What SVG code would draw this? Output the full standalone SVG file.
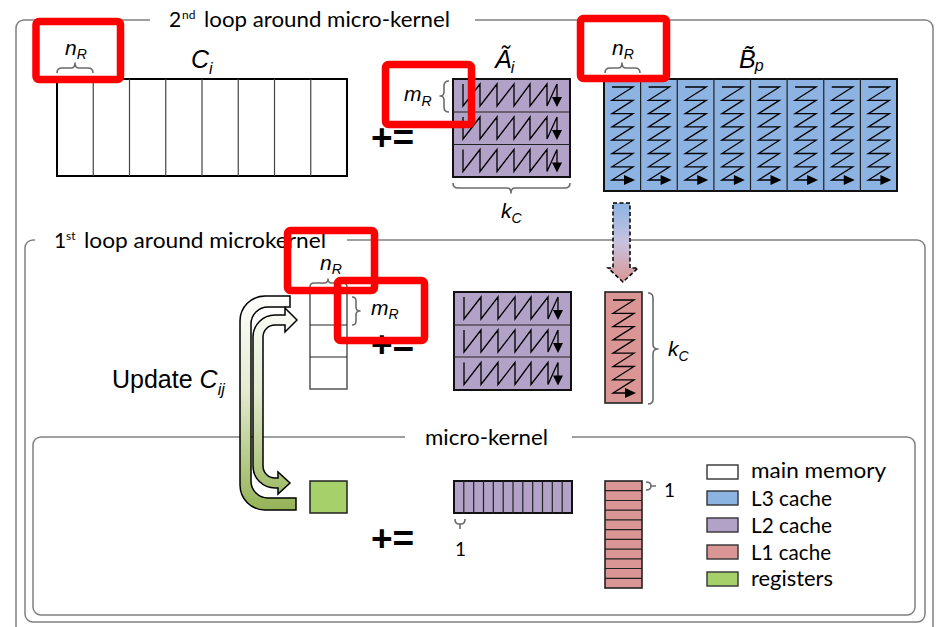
<svg xmlns="http://www.w3.org/2000/svg" width="936" height="627" viewBox="0 0 936 627">
  <style>
    .frame { fill: none; stroke: #808080; stroke-width: 1.5; }
    .title { font-family: Lato, "Open Sans", sans-serif; font-size: 21px; fill: #000; }
    .sup { font-size: 12px; }
    .m { font-family: "Liberation Sans", Arial, sans-serif; font-style: italic; font-size: 21px; fill: #000; }
    .big { font-family: "Liberation Sans", Arial, sans-serif; font-style: italic; font-size: 25px; fill: #000; }
    .sub { font-size: 14px; }
    .sub2 { font-size: 16px; }
    .op { font-family: "Liberation Sans", Arial, sans-serif; font-weight: bold; font-size: 37px; fill: #000; }
    .lbl { font-family: "Liberation Sans", Arial, sans-serif; font-size: 25px; fill: #000; }
    .one { font-family: Lato, "Open Sans", sans-serif; font-size: 19px; fill: #000; }
    .brace { fill: none; stroke: #6b6b6b; stroke-width: 1.6; stroke-linejoin: round; }
    .mem { fill: #ffffff; stroke: #000; stroke-width: 2; }
    .l3 { fill: #8db3e2; stroke: #111; stroke-width: 2; }
    .l2 { fill: #b3a2c7; stroke: #111; stroke-width: 2; }
    .l1 { fill: #d99694; stroke: #222; stroke-width: 1.6; }
    .reg { fill: #a5d06a; stroke: #222; stroke-width: 1.5; }
    .div { stroke: #222; stroke-width: 1.2; fill: none; }
    .divg { stroke: #444; stroke-width: 1.2; fill: none; }
    .zz { fill: none; stroke: #000; stroke-width: 1.3; stroke-linejoin: miter; }
    .head { fill: #000; }
    .mark { fill: none; stroke: #ff0000; stroke-width: 7.5; }
    .sw { stroke: #333; stroke-width: 1.4; }
  </style>
  <defs>
    <!-- column-major sweep through one m_R x k_C micro-panel -->
    <g id="zz-a">
      <path class="zz" d="M10,5 V27 L27,5 V27 L44,5 V27 L61,5 V27 L77,5 V27 L94,5 V27 L104,5 V19"/>
      <polygon class="head" points="99,18 109,18 104,28"/>
    </g>
    <!-- row-major sweep through one k_C x n_R micro-panel -->
    <g id="zz-b">
      <path class="zz" d="M8,8 H29 L8,21.3 H29 L8,34.6 H29 L8,47.9 H29 L8,61.2 H29 L8,74.5 H29 L8,87.8 H29 L8,101 H21"/>
      <polygon class="head" points="20,96 20,106 31,101"/>
    </g>
    <linearGradient id="uturn-fill" gradientUnits="userSpaceOnUse" x1="0" y1="292" x2="0" y2="512">
      <stop offset="0" stop-color="#ffffff"/>
      <stop offset="0.45" stop-color="#e3ebcf"/>
      <stop offset="1" stop-color="#93b254"/>
    </linearGradient>
    <linearGradient id="pack-fill" gradientUnits="userSpaceOnUse" x1="0" y1="203" x2="0" y2="282">
      <stop offset="0" stop-color="#8db3e2"/>
      <stop offset="0.5" stop-color="#c7c3df"/>
      <stop offset="1" stop-color="#d99694"/>
    </linearGradient>
  </defs>

  <rect width="936" height="627" fill="#ffffff"/>

  <!-- loop frames -->
  <g id="frame-loop2">
    <path class="frame" d="M150,20 H24 A8,8 0 0 0 16,28 V640 M933,640 V28 A8,8 0 0 0 925,20 H475"/>
    <text class="title"><tspan x="169" y="27">2</tspan><tspan class="sup" x="182" y="19">nd</tspan><tspan x="204" y="27" textLength="246" lengthAdjust="spacingAndGlyphs">loop around micro-kernel</tspan></text>
  </g>
  <g id="frame-loop1">
    <path class="frame" d="M35,240 H33 A8,8 0 0 0 25,248 V614 A8,8 0 0 0 33,622 H917 A8,8 0 0 0 925,614 V248 A8,8 0 0 0 917,240 H347"/>
    <text class="title"><tspan x="54" y="248">1</tspan><tspan class="sup" x="66" y="240">st</tspan><tspan x="84" y="248" textLength="242" lengthAdjust="spacingAndGlyphs">loop around microkernel</tspan></text>
  </g>
  <g id="frame-microkernel">
    <path class="frame" d="M405,437 H41 A8,8 0 0 0 33,445 V607 A8,8 0 0 0 41,615 H907 A8,8 0 0 0 915,607 V445 A8,8 0 0 0 907,437 H572"/>
    <text class="title" x="425" y="445" textLength="123" lengthAdjust="spacingAndGlyphs">micro-kernel</text>
  </g>

  <!-- C_i in main memory -->
  <g id="Ci">
    <rect class="mem" x="57" y="79" width="290" height="97"/>
    <path class="divg" d="M93.25,79 V176 M129.5,79 V176 M165.75,79 V176 M202,79 V176 M238.25,79 V176 M274.5,79 V176 M310.75,79 V176"/>
    <path class="brace" d="M57,73 Q57,68 62,68 H71 Q75,68 75,63 Q75,68 79,68 H88 Q93,68 93,73"/>
    <text class="m" x="65" y="55">n<tspan class="sub" dy="4">R</tspan></text>
    <text class="big" x="191" y="68">C<tspan class="sub2" dy="6">i</tspan></text>
  </g>

  <text id="op-loop2" class="op" x="371" y="150">+=</text>

  <!-- packed A_i in L2 -->
  <g id="Ai">
    <rect class="l2" x="453" y="79" width="117" height="98"/>
    <path class="div" d="M453,112 H570 M453,144.5 H570"/>
    <use href="#zz-a" transform="translate(453,79)"/>
    <use href="#zz-a" transform="translate(453,112)"/>
    <use href="#zz-a" transform="translate(453,144.5)"/>
    <text class="big" x="495" y="68">Ã<tspan class="sub2" dx="-1" dy="5">i</tspan></text>
    <path class="brace" d="M449,81 Q444,81 444,86 V92 Q444,96 440,96 Q444,96 444,100 V107 Q444,112 449,112"/>
    <text class="m" x="404" y="101">m<tspan class="sub" dy="5">R</tspan></text>
    <path class="brace" d="M453,183 Q453,188 458,188 H507 Q511,188 511,193 Q511,188 515,188 H565 Q570,188 570,183"/>
    <text class="m" x="501" y="218">k<tspan class="sub" dy="5">C</tspan></text>
  </g>

  <!-- packed B_p in L3 -->
  <g id="Bp">
    <rect class="l3" x="604" y="79" width="293" height="112"/>
    <path class="div" d="M640.6,79 V191 M677.25,79 V191 M713.9,79 V191 M750.5,79 V191 M787.1,79 V191 M823.75,79 V191 M860.4,79 V191"/>
    <use href="#zz-b" transform="translate(604,79)"/>
    <use href="#zz-b" transform="translate(640.6,79)"/>
    <use href="#zz-b" transform="translate(677.25,79)"/>
    <use href="#zz-b" transform="translate(713.9,79)"/>
    <use href="#zz-b" transform="translate(750.5,79)"/>
    <use href="#zz-b" transform="translate(787.1,79)"/>
    <use href="#zz-b" transform="translate(823.75,79)"/>
    <use href="#zz-b" transform="translate(860.4,79)"/>
    <path class="brace" d="M605,73 Q605,68 610,68 H618 Q622,68 622,63 Q622,68 626,68 H635 Q640,68 640,73"/>
    <text class="m" x="612" y="55">n<tspan class="sub" dy="4">R</tspan></text>
    <text class="big" x="739" y="68">B̃<tspan class="sub2" dx="-1" dy="3">p</tspan></text>
  </g>

  <!-- C_ij column block -->
  <g id="Cij">
    <rect x="310" y="292" width="37" height="97" fill="#ffffff" stroke="#555" stroke-width="1.5"/>
    <path class="div" d="M310,325 H347 M310,357 H347"/>
    <path class="brace" d="M310,287 Q310,283 314,283 H324 Q328,283 328,279 Q328,283 332,283 H343 Q347,283 347,287"/>
    <text class="m" x="320" y="270">n<tspan class="sub" dy="4">R</tspan></text>
    <path class="brace" d="M352,297 Q356,297 356,301 V307 Q356,311 360,311 Q356,311 356,315 V321 Q356,325 352,325"/>
    <text class="m" x="371" y="315">m<tspan class="sub" dy="4">R</tspan></text>
  </g>

  <text id="op-loop1" class="op" x="371" y="357">+=</text>

  <!-- A_i again in the 1st loop -->
  <g id="Ai-loop1">
    <rect class="l2" x="454" y="292" width="117" height="98"/>
    <path class="div" d="M454,325 H571 M454,357 H571"/>
    <use href="#zz-a" transform="translate(454,292)"/>
    <use href="#zz-a" transform="translate(454,325)"/>
    <use href="#zz-a" transform="translate(454,357.5)"/>
  </g>

  <!-- micro-panel of B_p in L1 -->
  <g id="Bpj">
    <rect class="l1" x="605" y="292" width="37" height="111"/>
    <use href="#zz-b" transform="translate(605,292)"/>
    <path class="brace" d="M648,293 Q653,293 653,298 V344 Q653,349 658,349 Q653,349 653,354 V399 Q653,404 648,404"/>
    <text class="m" x="668" y="356">k<tspan class="sub" dy="5">C</tspan></text>
  </g>

  <!-- micro-kernel operands -->
  <g id="reg-block">
    <rect class="reg" x="310" y="481" width="37" height="32"/>
  </g>
  <text id="op-micro" class="op" x="371" y="551">+=</text>
  <g id="a-sliver">
    <rect class="l2" x="454" y="481" width="118" height="32" stroke-width="1.5"/>
    <path class="div" d="M463.8,481 V513 M473.7,481 V513 M483.5,481 V513 M493.3,481 V513 M503.2,481 V513 M513,481 V513 M522.8,481 V513 M532.7,481 V513 M542.5,481 V513 M552.3,481 V513 M562.2,481 V513"/>
    <path class="brace" d="M455,519 Q455,524 459,524 H460 Q460,524 460,529 M460,524 H461 Q465,524 465,519"/>
    <text class="one" x="455" y="556">1</text>
  </g>
  <g id="b-sliver">
    <rect class="l1" x="605" y="481" width="37" height="107"/>
    <path class="div" d="M605,490.7 H642 M605,500.5 H642 M605,510.2 H642 M605,519.9 H642 M605,529.6 H642 M605,539.4 H642 M605,549.1 H642 M605,558.8 H642 M605,568.5 H642 M605,578.3 H642"/>
    <path class="brace" d="M646,482 Q651,482 651,486 Q651,490 646,490 M651,486 H656"/>
    <text class="one" x="664" y="497">1</text>
  </g>

  <!-- memory hierarchy key -->
  <g id="legend">
    <rect class="sw" x="707" y="465" width="31" height="14" fill="#ffffff"/>
    <rect class="sw" x="707" y="491" width="31" height="14" fill="#8db3e2"/>
    <rect class="sw" x="707" y="518" width="31" height="14" fill="#b3a2c7"/>
    <rect class="sw" x="707" y="545" width="31" height="14" fill="#d99694"/>
    <rect class="sw" x="707" y="572" width="31" height="14" fill="#a5d06a"/>
    <text class="title" x="751" y="478" textLength="135" lengthAdjust="spacingAndGlyphs">main memory</text>
    <text class="title" x="751" y="506" textLength="81" lengthAdjust="spacingAndGlyphs">L3 cache</text>
    <text class="title" x="751" y="533" textLength="81" lengthAdjust="spacingAndGlyphs">L2 cache</text>
    <text class="title" x="751" y="560" textLength="80" lengthAdjust="spacingAndGlyphs">L1 cache</text>
    <text class="title" x="751" y="586" textLength="82" lengthAdjust="spacingAndGlyphs">registers</text>
  </g>

  <!-- data movement -->
  <g id="connectors">
    <path id="pack-arrow" d="M613,203 H630 V268 H638 L623,282 L608,268 H613 Z" fill="url(#pack-fill)" stroke="#000" stroke-width="1.5" stroke-dasharray="4 2.5"/>
    <path id="uturn-outer" d="M290,296 H265 A25,25 0 0 0 240,321 V485 A25,25 0 0 0 265,510 H296 V498 H268 A17,17 0 0 1 251,481 V324 A17,17 0 0 1 268,307 H290 Z" fill="url(#uturn-fill)" stroke="#000" stroke-width="1.5"/>
    <path id="uturn-inner" d="M285,315 H275 A22,22 0 0 0 253,337 V466 A22,22 0 0 0 275,488 H278 V494 L290,483 L278,472 V478 H275 A12,12 0 0 1 263,466 V337 A12,12 0 0 1 275,325 H285 V332 L297,320 L285,308 Z" fill="url(#uturn-fill)" stroke="#000" stroke-width="1.5"/>
  </g>

  <text id="update-label" class="lbl" x="112" y="388">Update <tspan font-style="italic">C</tspan><tspan class="sub2" font-style="italic" dy="7">ij</tspan></text>

  <!-- highlight boxes -->
  <g id="highlights">
    <rect class="mark" x="36" y="21.5" width="84.5" height="58" rx="3"/>
    <rect class="mark" x="385.5" y="64.5" width="86" height="60" rx="3"/>
    <rect class="mark" x="580.5" y="18.5" width="86" height="60" rx="3"/>
    <rect class="mark" x="287.5" y="230.5" width="87" height="60" rx="3"/>
    <rect class="mark" x="337.5" y="280.5" width="87" height="60" rx="3"/>
  </g>
</svg>
